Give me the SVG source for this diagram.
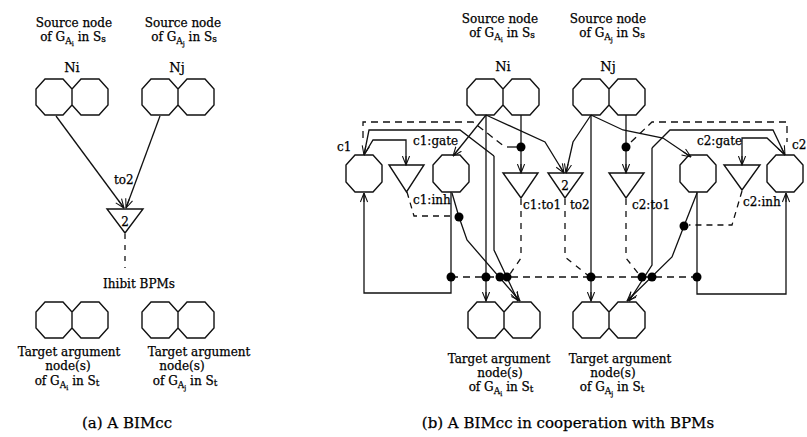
<svg xmlns="http://www.w3.org/2000/svg" xmlns:xlink="http://www.w3.org/1999/xlink" width="807" height="437" viewBox="0 0 807 437">
<style>
text{font-family:"DejaVu Serif","Liberation Serif",serif;fill:#000;font-size:12px;stroke:#000;stroke-width:0.25}
.c{text-anchor:middle}
.cl{font-size:12px}
.nm{font-size:13px}
.cap{font-size:15px}
.s1{font-size:9px}
.s2{font-size:6.5px}
.ln{fill:none;stroke:#111;stroke-width:1.3}
.dsh{stroke-dasharray:7 5}
.sh{fill:#fff;stroke:#111;stroke-width:1.4}
.dot{fill:#000}
</style>
<defs>
<marker id="ah" viewBox="0 0 10 10" refX="10" refY="5" markerWidth="10" markerHeight="9" orient="auto" markerUnits="userSpaceOnUse">
<path d="M0,1 L10,5 L0,9 M0,5 H10" fill="none" stroke="#111" stroke-width="1.2"/>
</marker>
<path id="dbl" d="M9,0 H27 L36,10 V26 L27,36 H9 L0,26 V10 Z M45,0 H63 L72,10 V26 L63,36 H45 L36,26 V10 Z"/>
<path id="oct" d="M9,0 H27 L36,10 V27 L27,37 H9 L0,27 V10 Z"/>
</defs>
<rect width="807" height="437" fill="#fff"/>

<!-- (a) -->
<g id="a-src-i">
<text class="c" x="74" y="27">Source node</text>
<text class="c" x="73" y="41">of G<tspan class="s1" dy="3">A</tspan><tspan class="s2" dy="2">i</tspan><tspan dy="-5"> in S</tspan><tspan class="s1" dy="1">s</tspan></text>
<text class="c nm" x="72" y="72">Ni</text>
<use href="#dbl" x="36" y="79" class="sh"/>
</g>
<g id="a-src-j">
<text class="c" x="183" y="27">Source node</text>
<text class="c" x="184" y="41">of G<tspan class="s1" dy="3">A</tspan><tspan class="s2" dy="2">j</tspan><tspan dy="-5"> in S</tspan><tspan class="s1" dy="1">s</tspan></text>
<text class="c nm" x="177" y="72">Nj</text>
<use href="#dbl" x="142" y="79" class="sh"/>
</g>
<g id="a-to2">
<path class="sh" d="M107,209 H143 L125,233 Z"/>
<text class="c" x="125" y="226" style="font-size:12px">2</text>
<text class="cl" x="114" y="184">to2</text>
</g>
<g id="a-inhibit">
<text class="c" x="139" y="288">Ihibit BPMs</text>
</g>
<g id="a-tgt-i">
<use href="#dbl" x="36" y="302" class="sh"/>
<text class="c" x="69" y="356">Target argument</text>
<text class="c" x="68" y="370">node(s)</text>
<text class="c" x="67" y="385">of G<tspan class="s1" dy="3">A</tspan><tspan class="s2" dy="2">i</tspan><tspan dy="-5"> in S</tspan><tspan class="s1" dy="1">t</tspan></text>
</g>
<g id="a-tgt-j">
<use href="#dbl" x="142" y="302" class="sh"/>
<text class="c" x="199" y="356">Target argument</text>
<text class="c" x="182" y="370">node(s)</text>
<text class="c" x="185" y="385">of G<tspan class="s1" dy="3">A</tspan><tspan class="s2" dy="2">j</tspan><tspan dy="-5"> in S</tspan><tspan class="s1" dy="1">t</tspan></text>
</g>
<text class="c cap" x="127" y="428">(a) A BIMcc</text>

<!-- (b) nodes -->
<g id="b-src-i">
<text class="c" x="500" y="23">Source node</text>
<text class="c" x="502" y="37">of G<tspan class="s1" dy="3">A</tspan><tspan class="s2" dy="2">i</tspan><tspan dy="-5"> in S</tspan><tspan class="s1" dy="1">s</tspan></text>
<text class="c nm" x="503" y="71">Ni</text>
<use href="#dbl" x="467" y="79" class="sh"/>
</g>
<g id="b-src-j">
<text class="c" x="608" y="23">Source node</text>
<text class="c" x="612" y="37">of G<tspan class="s1" dy="3">A</tspan><tspan class="s2" dy="2">j</tspan><tspan dy="-5"> in S</tspan><tspan class="s1" dy="1">s</tspan></text>
<text class="c nm" x="608" y="71">Nj</text>
<use href="#dbl" x="573" y="79" class="sh"/>
</g>
<g id="b-c1">
<use href="#oct" x="346" y="155" class="sh"/>
<text class="cl" x="337" y="151">c1</text>
</g>
<g id="b-c1-inh">
<path class="sh" d="M389,165 H424 L406.5,192 Z"/>
<text class="cl" x="413" y="204">c1:inh</text>
</g>
<g id="b-c1-gate">
<use href="#oct" x="433" y="155" class="sh"/>
<text class="cl" x="413" y="145">c1:gate</text>
</g>
<g id="b-c1-to1">
<path class="sh" d="M503,173 H538 L521,198 Z"/>
<text class="cl" x="523" y="209">c1:to1</text>
</g>
<g id="b-to2">
<path class="sh" d="M548,173 H583 L565,198 Z"/>
<text class="c" x="565" y="190" style="font-size:12px">2</text>
<text class="cl" x="570" y="209">to2</text>
</g>
<g id="b-c2-to1">
<path class="sh" d="M609,173 H644 L626,198 Z"/>
<text class="cl" x="632" y="209">c2:to1</text>
</g>
<g id="b-c2-gate">
<use href="#oct" x="680" y="155" class="sh"/>
<text class="cl" x="697" y="145">c2:gate</text>
</g>
<g id="b-c2-inh">
<path class="sh" d="M724,165 H760 L742,190 Z"/>
<text class="cl" x="743" y="206">c2:inh</text>
</g>
<g id="b-c2">
<use href="#oct" x="767" y="155" class="sh"/>
<text class="cl" x="792" y="149">c2</text>
</g>
<g id="b-tgt-i">
<use href="#dbl" x="468" y="302" class="sh"/>
<text class="c" x="499" y="363">Target argument</text>
<text class="c" x="500" y="377">node(s)</text>
<text class="c" x="501" y="391">of G<tspan class="s1" dy="3">A</tspan><tspan class="s2" dy="2">i</tspan><tspan dy="-5"> in S</tspan><tspan class="s1" dy="1">t</tspan></text>
</g>
<g id="b-tgt-j">
<use href="#dbl" x="573" y="302" class="sh"/>
<text class="c" x="620" y="363">Target argument</text>
<text class="c" x="613" y="377">node(s)</text>
<text class="c" x="612" y="391">of G<tspan class="s1" dy="3">A</tspan><tspan class="s2" dy="2">j</tspan><tspan dy="-5"> in S</tspan><tspan class="s1" dy="1">t</tspan></text>
</g>
<text class="c cap" x="568" y="428">(b) A BIMcc in cooperation with BPMs</text>

<!-- connectors -->
<g id="connectors">
<path class="ln" d="M56,116 L124,208" marker-end="url(#ah)"/>
<path class="ln" d="M160,116 L126,208" marker-end="url(#ah)"/>
<path class="ln dsh" d="M125,234 V268" style="stroke-dasharray:5 6"/>

<path class="ln" d="M486,115 V301" marker-end="url(#ah)"/>
<path class="ln" d="M486,115 L453,156" marker-end="url(#ah)"/>
<path class="ln" d="M486,115 L545,142 L564,173" marker-end="url(#ah)"/>
<path class="ln" d="M521,115 V173" marker-end="url(#ah)"/>
<path class="ln" d="M591,115 V301" marker-end="url(#ah)"/>
<path class="ln" d="M591,115 L573,142 L566,173" marker-end="url(#ah)"/>
<path class="ln" d="M591,115 L623,130 L663,138 L691,157" marker-end="url(#ah)"/>
<path class="ln" d="M626,115 V173" marker-end="url(#ah)"/>

<path class="ln" d="M494,156 V250 L518,301" marker-end="url(#ah)"/>
<path class="ln" d="M494,156 L460,130 H369 L364,155" marker-end="url(#ah)"/>
<path class="ln" d="M364,155 L373,140 H406 V165" marker-end="url(#ah)"/>
<path class="ln" d="M451,192 V293 H364 V193" marker-end="url(#ah)"/>
<path class="ln" d="M452,193 L459,217 L467,240 L520,301" marker-end="url(#ah)"/>
<path class="ln dsh" d="M407,192 L414,216 H455" style="stroke-dasharray:6 5"/>
<path class="ln dsh" d="M363,138 V122 H473 L505,147"/>
<path class="ln" d="M507,147 H521"/>

<path class="ln dsh" d="M521,199 V258 L508,277" style="stroke-dasharray:6 6"/>
<path class="ln dsh" d="M565,199 V257 L590,277" style="stroke-dasharray:6 6"/>
<path class="ln dsh" d="M626,199 V258 L641,277" style="stroke-dasharray:6 6"/>
<path class="ln dsh" d="M451,277 H697"/>

<path class="ln" d="M652,148 V265 L629,301" marker-end="url(#ah)"/>
<path class="ln" d="M652,148 L670,130 H773 L785,155" marker-end="url(#ah)"/>
<path class="ln" d="M785,155 L767,138 H742 V165" marker-end="url(#ah)"/>
<path class="ln" d="M697,192 V294 H786 V193" marker-end="url(#ah)"/>
<path class="ln" d="M697,193 L684,226 L672,257 L627,301" marker-end="url(#ah)"/>
<path class="ln dsh" d="M742,191 L732,225 H689" style="stroke-dasharray:6 5"/>
<path class="ln dsh" d="M631,142 L652,122 H787 V142"/>

<circle class="dot" cx="521" cy="147" r="4.5"/>
<circle class="dot" cx="626" cy="147" r="4.5"/>
<circle class="dot" cx="459" cy="217" r="4.5"/>
<circle class="dot" cx="684" cy="226" r="4.5"/>
<circle class="dot" cx="451" cy="277" r="4.5"/>
<circle class="dot" cx="486" cy="277" r="4.5"/>
<circle class="dot" cx="500" cy="277" r="4.5"/>
<circle class="dot" cx="507" cy="277" r="4.5"/>
<circle class="dot" cx="591" cy="277" r="4.5"/>
<circle class="dot" cx="642" cy="277" r="4.5"/>
<circle class="dot" cx="652" cy="277" r="4.5"/>
<circle class="dot" cx="697" cy="277" r="4.5"/>
</g>
</svg>
